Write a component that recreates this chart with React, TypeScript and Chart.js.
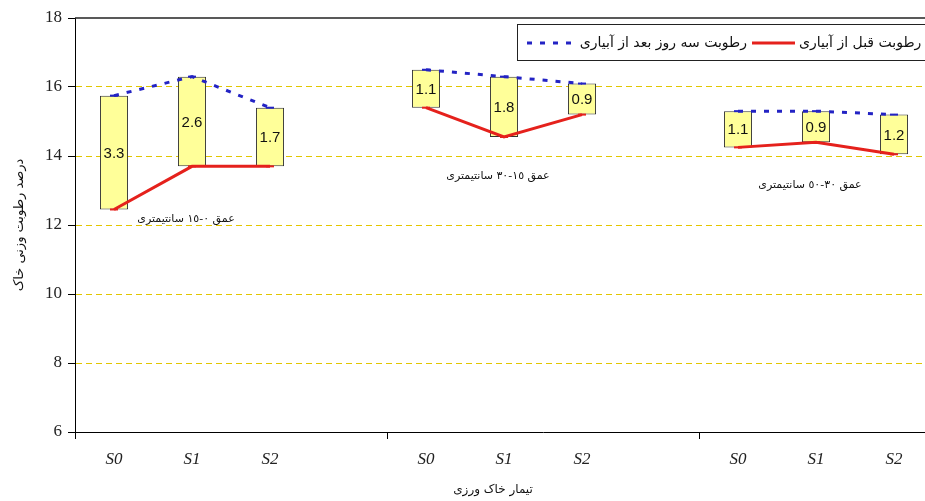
import React, { useEffect, useRef } from "react";
import { Chart, registerables } from "chart.js";

Chart.register(...registerables);

// ---------- data ----------
const treatments = ["S0", "S1", "S2"];
const depthLabels = ["عمق ٠-١٥ سانتیمتری", "عمق ١٥-٣٠ سانتیمتری", "عمق ٣٠-٥٠ سانتیمتری"];
const depthLabelY = [12.17, 13.42, 13.16];
const beforeIrrigation = [
  [12.45, 13.7, 13.7],
  [15.4, 14.55, 15.2],
  [14.25, 14.4, 14.05],
];
const afterThreeDays = [
  [15.75, 16.3, 15.4],
  [16.5, 16.3, 16.1],
  [15.3, 15.3, 15.2],
];
const differences = [
  ["3.3", "2.6", "1.7"],
  ["1.1", "1.8", "0.9"],
  ["1.1", "0.9", "1.2"],
];
const yTicks = [6, 8, 10, 12, 14, 16, 18];
const beforeLabel = "رطوبت قبل از آبیاری";
const afterLabel = "رطوبت سه روز بعد از آبیاری";
const xTitle = "تیمار خاک ورزی";
const yTitle = "درصد رطوبت وزنی خاک";

const W = 1020;
const H = 501;
const RED = "#e5211c";
const BLUE = "#2323c4";
const PERSIAN_FONT = '"DejaVu Sans", sans-serif';

function drawRTL(ctx: CanvasRenderingContext2D, text: string, x: number, y: number, align: "left" | "center" | "right") {
  ctx.save();
  (ctx as any).direction = "rtl";
  ctx.textAlign = align;
  ctx.fillText(text, x, y);
  ctx.restore();
}

export default function App() {
  const ref = useRef<HTMLCanvasElement>(null);

  useEffect(() => {
    const labels: string[] = [];
    const before: (number | null)[] = [];
    const after: (number | null)[] = [];
    const floats: ([number, number] | null)[] = [];
    const diffs: string[] = [];
    for (let g = 0; g < depthLabels.length; g++) {
      for (let i = 0; i < treatments.length; i++) {
        labels.push(treatments[i]);
        before.push(beforeIrrigation[g][i]);
        after.push(afterThreeDays[g][i]);
        floats.push([beforeIrrigation[g][i], afterThreeDays[g][i]]);
        diffs.push(differences[g][i]);
      }
      labels.push("");
      before.push(null);
      after.push(null);
      floats.push(null);
      diffs.push("");
    }

    const decorPlugin = {
      id: "decor",
      afterDatasetsDraw(chart: any) {
        const { ctx, chartArea, scales } = chart;
        const xs = scales.x;
        const ys = scales.y;
        ctx.save();
        // top border of plot area
        ctx.strokeStyle = "#222";
        ctx.lineWidth = 1.5;
        ctx.beginPath();
        ctx.moveTo(chartArea.left, chartArea.top);
        ctx.lineTo(chartArea.right, chartArea.top);
        ctx.stroke();

        // bar value labels
        const barMeta = chart.getDatasetMeta(2);
        ctx.fillStyle = "#111";
        ctx.font = '15px "Liberation Sans", Arial, sans-serif';
        ctx.textAlign = "center";
        ctx.textBaseline = "middle";
        barMeta.data.forEach((el: any, i: number) => {
          if (!diffs[i]) return;
          const cy = (el.y + el.base) / 2;
          ctx.fillText(diffs[i], el.x, cy + 1);
        });

        // depth annotations
        ctx.font = `11px ${PERSIAN_FONT}`;
        ctx.fillStyle = "#111";
        depthLabels.forEach((t, g) => {
          const idx = g * 4 + 1;
          const px = xs.getPixelForValue(idx) - 6;
          const py = ys.getPixelForValue(depthLabelY[g]);
          drawRTL(ctx, t, px, py, "center");
        });

        // axis titles
        ctx.font = `12px ${PERSIAN_FONT}`;
        drawRTL(ctx, xTitle, 493, 490, "center");
        ctx.save();
        ctx.font = `13px ${PERSIAN_FONT}`;
        ctx.translate(20, 225);
        ctx.rotate(-Math.PI / 2);
        drawRTL(ctx, yTitle, 0, 0, "center");
        ctx.restore();

        // legend box
        const lx = 517, ly = 24, lw = 480, lh = 36;
        ctx.fillStyle = "#fff";
        ctx.fillRect(lx, ly, lw, lh);
        ctx.strokeStyle = "#222";
        ctx.lineWidth = 1;
        ctx.strokeRect(lx + 0.5, ly + 0.5, lw, lh);
        const cy = ly + lh / 2 + 1;
        ctx.lineWidth = 3;
        ctx.strokeStyle = BLUE;
        ctx.setLineDash([5, 8]);
        ctx.beginPath();
        ctx.moveTo(527, cy);
        ctx.lineTo(575, cy);
        ctx.stroke();
        ctx.setLineDash([]);
        ctx.strokeStyle = RED;
        ctx.beginPath();
        ctx.moveTo(752, cy);
        ctx.lineTo(795, cy);
        ctx.stroke();
        ctx.fillStyle = "#111";
        ctx.font = `14px ${PERSIAN_FONT}`;
        drawRTL(ctx, afterLabel, 747, cy, "right");
        drawRTL(ctx, beforeLabel, 799, cy, "left");
        ctx.restore();
      },
    };

    const chart = new Chart(ref.current as HTMLCanvasElement, {
      type: "bar",
      data: {
        labels,
        datasets: [
          {
            type: "line",
            label: afterLabel,
            data: after,
            borderColor: BLUE,
            borderWidth: 3,
            borderDash: [5, 8],
            pointStyle: "line",
            pointRadius: 4,
            pointBorderWidth: 2,
            pointBorderColor: BLUE,
            pointBackgroundColor: BLUE,
            spanGaps: false,
            tension: 0,
            fill: false,
            order: 1,
          } as any,
          {
            type: "line",
            label: beforeLabel,
            data: before,
            borderColor: RED,
            borderWidth: 3,
            pointStyle: "line",
            pointRadius: 4,
            pointBorderWidth: 2,
            pointBorderColor: RED,
            pointBackgroundColor: RED,
            spanGaps: false,
            tension: 0,
            fill: false,
            order: 1,
          } as any,
          {
            type: "bar",
            label: "diff",
            data: floats as any,
            backgroundColor: "#ffff99",
            borderColor: "#333",
            borderWidth: 1,
            borderSkipped: false,
            categoryPercentage: 1,
            barPercentage: 0.36,
            order: 2,
          } as any,
        ],
      },
      options: {
        responsive: false,
        animation: false,
        layout: { padding: { top: 18, right: 9, left: 0, bottom: 0 } },
        plugins: {
          legend: { display: false },
          tooltip: { enabled: false },
        },
        scales: {
          x: {
            type: "category",
            offset: true,
            afterFit(scale: any) {
              scale.height = 69;
            },
            border: { color: "#000", width: 1 },
            grid: {
              offset: true,
              drawOnChartArea: false,
              tickLength: 7,
              color: (c: any) => (c.index % 4 === 0 ? "#000" : "rgba(0,0,0,0)"),
            },
            ticks: {
              autoSkip: false,
              maxRotation: 0,
              padding: 10,
              color: "#222",
              font: { family: '"Liberation Serif", serif', size: 17, style: "italic" },
            },
          },
          y: {
            min: 6,
            max: 18,
            afterFit(scale: any) {
              scale.width = 75;
            },
            afterBuildTicks(scale: any) {
              scale.ticks = yTicks.map((v) => ({ value: v }));
            },
            border: { color: "#000", width: 1, dash: [6, 4] },
            grid: {
              color: (c: any) =>
                c.tick && (c.tick.value === 6 || c.tick.value === 18) ? "rgba(0,0,0,0)" : "#e2c600",
              tickColor: "#000",
              tickLength: 7,
              tickBorderDash: [],
            } as any,
            ticks: {
              padding: 6,
              color: "#222",
              font: { family: '"Liberation Serif", serif', size: 17 },
            },
          },
        },
      },
      plugins: [decorPlugin],
    });
    return () => chart.destroy();
  }, []);

  return (
    <div
      style={{
        position: "fixed",
        left: 0,
        top: 0,
        width: 925,
        height: 501,
        overflow: "hidden",
        background: "#fff",
      }}
    >
      <canvas ref={ref} width={W} height={H} style={{ display: "block", width: W, height: H }} />
    </div>
  );
}
